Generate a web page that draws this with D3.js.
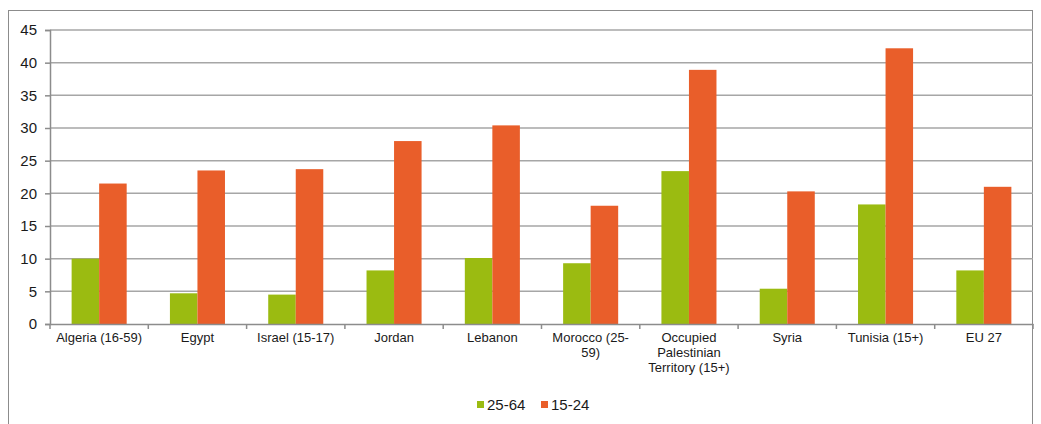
<!DOCTYPE html>
<html>
<head>
<meta charset="utf-8">
<script src="https://cdn.jsdelivr.net/npm/d3@7"></script>
<style>
    body { margin: 0; background: #fff; }
    svg { display: block; font-family: "Liberation Sans", Arial, sans-serif; }
</style>
</head>
<body>
<div id="chart"></div>
<script>
const categories = ["Algeria (16-59)", "Egypt", "Israel (15-17)", "Jordan", "Lebanon",
    "Morocco (25-59)", "Occupied Palestinian Territory (15+)", "Syria", "Tunisia (15+)", "EU 27"];
// tick labels as Excel wrapped them
const tickLabels = [["Algeria (16-59)"], ["Egypt"], ["Israel (15-17)"], ["Jordan"], ["Lebanon"],
    ["Morocco (25-", "59)"], ["Occupied", "Palestinian", "Territory (15+)"], ["Syria"], ["Tunisia (15+)"], ["EU 27"]];
const seriesNames = ["25-64", "15-24"];
const values2564 = [10.0, 4.7, 4.5, 8.2, 10.1, 9.3, 23.4, 5.4, 18.3, 8.2];
const values1524 = [21.5, 23.5, 23.7, 28.0, 30.4, 18.1, 38.9, 20.3, 42.2, 21.0];
const yTicks = [0, 5, 10, 15, 20, 25, 30, 35, 40, 45];
const colors = ["#9bbb11", "#e95e2a"];

const W = 1041, H = 424;
const margin = { top: 30, right: 8, bottom: 100, left: 50 };
const width = 1033 - margin.left;
const height = 324 - margin.top;

const svg = d3.select("#chart")
    .append("svg")
    .attr("width", W)
    .attr("height", H);

// outer chart frame
svg.append("rect")
    .attr("x", 8.5)
    .attr("y", 10.5)
    .attr("width", 1024)
    .attr("height", 430)
    .attr("fill", "none")
    .attr("stroke", "#8c8c8c")
    .attr("stroke-width", 1);

const g = svg.append("g")
    .attr("transform", `translate(${margin.left},${margin.top})`);

const x = d3.scaleBand()
    .domain(categories)
    .range([0, width]);

const inner = d3.scaleBand()
    .domain(seriesNames)
    .range([x.bandwidth() * 0.22, x.bandwidth() * 0.78]);

const y = d3.scaleLinear()
    .domain([0, 45])
    .range([height, 0]);

// gridlines
g.append("g")
    .selectAll("line")
    .data(yTicks.filter(d => d > 0))
    .enter()
    .append("line")
    .attr("x1", 0)
    .attr("x2", width)
    .attr("y1", d => y(d))
    .attr("y2", d => y(d))
    .attr("stroke", "#a6a6a6")
    .attr("stroke-width", 1.5);

// y axis
const yAxis = g.append("g")
    .call(d3.axisLeft(y).tickValues(yTicks).tickSize(5).tickPadding(8));
yAxis.select(".domain").attr("stroke", "#8c8c8c").attr("stroke-width", 1.5);
yAxis.selectAll(".tick line").attr("stroke", "#8c8c8c").attr("stroke-width", 1.5);
yAxis.selectAll("text")
    .attr("fill", "#1a1a1a")
    .style("font-size", "15px");

// bars
const rows = categories.map((c, i) => ({ cat: c, vals: [values2564[i], values1524[i]] }));
const groups = g.selectAll(".cat")
    .data(rows)
    .enter()
    .append("g")
    .attr("class", "cat")
    .attr("transform", d => `translate(${x(d.cat)},0)`);

groups.selectAll("rect")
    .data(d => d.vals.map((v, j) => ({ key: seriesNames[j], v: v, j: j })))
    .enter()
    .append("rect")
    .attr("x", d => inner(d.key))
    .attr("width", inner.bandwidth())
    .attr("y", d => y(d.v))
    .attr("height", d => height - y(d.v))
    .attr("fill", d => colors[d.j]);

// x axis
const xAxis = g.append("g")
    .attr("transform", `translate(0,${height})`)
    .call(d3.axisBottom(x).tickSize(0).tickFormat(""));
xAxis.select(".domain").attr("stroke", "#8c8c8c").attr("stroke-width", 1.5);

// category separators
g.append("g")
    .selectAll("line")
    .data(d3.range(categories.length + 1))
    .enter()
    .append("line")
    .attr("x1", i => i * x.step())
    .attr("x2", i => i * x.step())
    .attr("y1", height)
    .attr("y2", height + 5)
    .attr("stroke", "#8c8c8c")
    .attr("stroke-width", 1.5);

// wrapped tick labels
const labels = g.append("g")
    .selectAll("text")
    .data(categories)
    .enter()
    .append("text")
    .attr("x", d => x(d) + x.bandwidth() / 2)
    .attr("y", height + 18)
    .attr("text-anchor", "middle")
    .attr("fill", "#1a1a1a")
    .style("font-size", "13px");

labels.selectAll("tspan")
    .data((d, i) => tickLabels[i])
    .enter()
    .append("tspan")
    .attr("x", function () { return this.parentNode.getAttribute("x"); })
    .attr("dy", (d, i) => i === 0 ? 0 : 15)
    .text(d => d);

// legend
const legend = svg.append("g")
    .attr("transform", "translate(477,398)");

const items = legend.selectAll("g")
    .data(seriesNames)
    .enter()
    .append("g")
    .attr("transform", (d, i) => `translate(${i * 64},0)`);

items.append("rect")
    .attr("width", 7)
    .attr("height", 7)
    .attr("y", 3)
    .attr("fill", (d, i) => colors[i]);

items.append("text")
    .attr("x", 10)
    .attr("y", 12)
    .attr("fill", "#1a1a1a")
    .style("font-size", "15px")
    .text(d => d);
</script>
</body>
</html>
